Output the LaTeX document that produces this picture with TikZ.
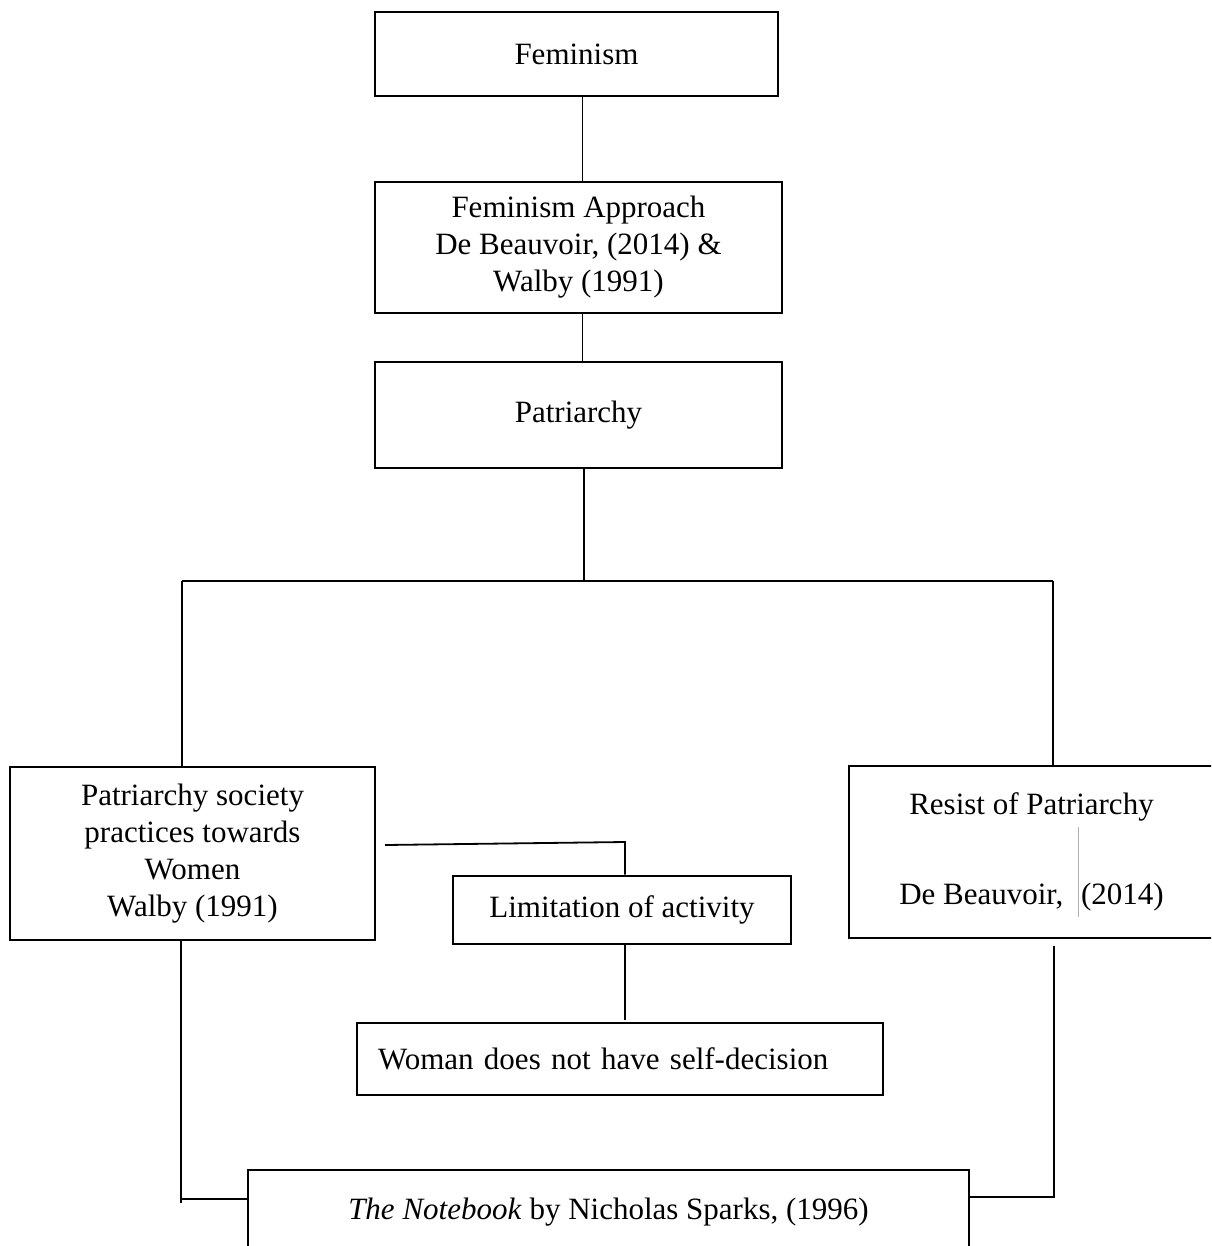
\documentclass[tikz,border=0pt]{standalone}
\usepackage{fontspec}
\setmainfont{Liberation Serif}
\usepackage{tikz}
\usetikzlibrary{positioning}

\begin{document}
\begin{tikzpicture}[
	x=1pt, y=-1pt,
	textbox/.style={draw, line width=2.8pt, inner sep=0, align=center, font=\fontsize{31}{37}\selectfont},
	conn/.style={line width=1.8pt}
]
\useasboundingbox (0,0) rectangle (1211,1246);
\clip (0,0) rectangle (1211,1246);

\node[textbox, minimum width=403, minimum height=84] (fem) at (576.5,54) {Feminism};
\node[textbox, minimum width=407, minimum height=131] (appr) at (578.5,247.5) {Feminism Approach\\De Beauvoir, (2014) \&\\Walby (1991)};
\node[textbox, minimum width=407, minimum height=106] (patr) at (578.5,415) {Patriarchy};
\node[textbox, minimum width=365, minimum height=173] (pso) at (192.5,853.5) {Patriarchy society\\practices towards\\Women\\Walby (1991)};
\node[textbox, minimum width=338, minimum height=68] (lim) at (622,910) {Limitation of activity};
\node[textbox, minimum width=365, minimum height=172] (res) at (1031.5,852) {Resist of Patriarchy\\[53pt]De Beauvoir,\hspace{10pt} (2014)};
\node[textbox, minimum height=72, text width=484, inner xsep=21, align=left] (wom) at (620,1059) {Woman does not have self-decision};
\node[textbox, minimum width=721, minimum height=84] (book) at (608.5,1212) {\textit{The Notebook} by Nicholas Sparks, (1996)};

% stray mark inside the right box
\draw[gray!60, line width=0.8pt] (1078,827) -- (1078,917);

% top chain
\draw[conn] ([xshift=4pt]appr.north |- fem.south) -- ([xshift=4pt]appr.north);
\draw[conn] ([xshift=4pt]appr.south) -- ([xshift=4pt]patr.north);

% fork
\coordinate (fork) at (584,581);
\coordinate (lbr) at (182,581);
\coordinate (rbr) at (1053,581);
\draw[conn] (fork |- patr.south) -- (fork);
\draw[conn] (lbr) -- (rbr);
\draw[conn] (lbr) -- (lbr |- pso.north);
\draw[conn] (rbr) -- (rbr |- res.north);

% limitation
\coordinate (lfree) at (385,845);
\coordinate (lk) at (625,842);
\coordinate (wend) at (625,1020);
\draw[conn] (lfree) -- (lk) -- (lk |- lim.north);
\draw[conn] (lk |- lim.south) -- (wend);

% to the novel
\coordinate (lb) at (181,1199);
\coordinate (rb) at (1054,1197);
\draw[conn] (lb |- pso.south) -- ([yshift=-4pt]lb);
\draw[conn] (lb) -- (lb -| book.west);
\draw[conn, shorten <=7pt] (rb |- res.south) -- (rb) -- (rb -| book.east);
\end{tikzpicture}
\end{document}
